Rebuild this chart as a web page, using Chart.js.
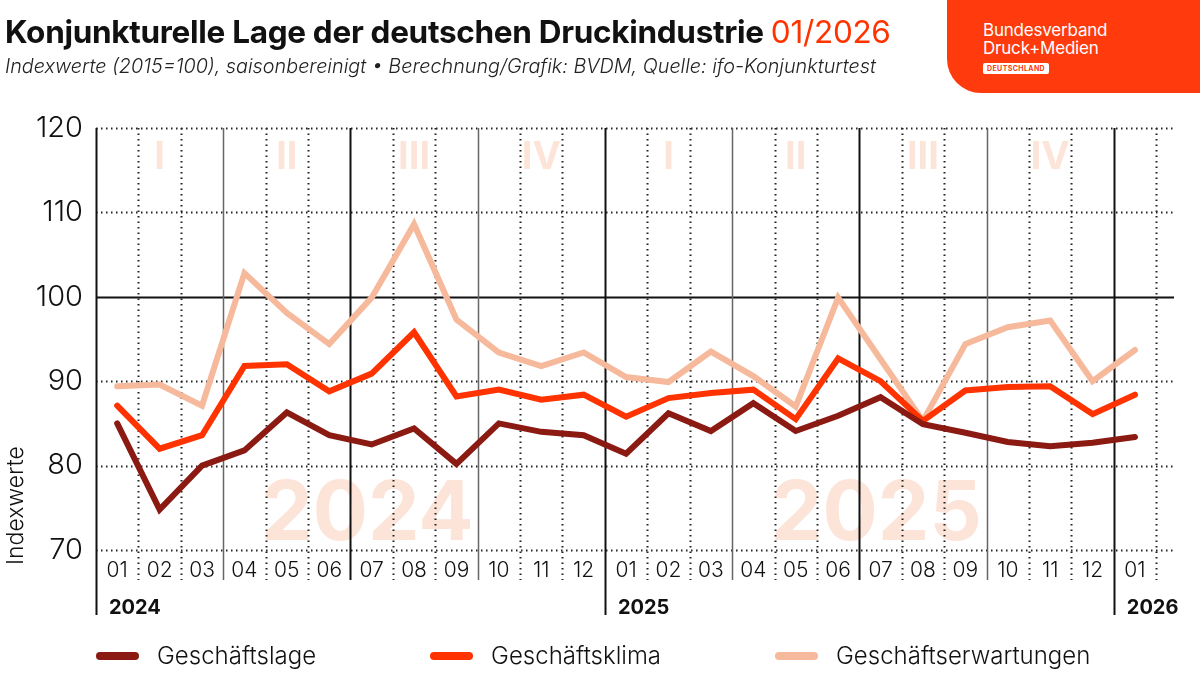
<!DOCTYPE html>
<html>
<head>
<meta charset="utf-8">
<script src="https://cdn.jsdelivr.net/npm/chart.js@4.4.1/dist/chart.umd.min.js"></script>
<style>
  body { margin: 0; width: 1200px; height: 675px; overflow: hidden; background: #fff; position: relative; font-family: Inter, "Noto Sans", sans-serif; }
  #chart { position: absolute; left: 0; top: 0; }
  #title { position: absolute; left: 5px; top: 12px; font-size: 31.5px; font-weight: 700; color: #111; white-space: nowrap; letter-spacing: -0.3px; }
  #title span { color: #ff3300; font-weight: 400; }
  #sub { position: absolute; left: 5px; top: 54px; font-size: 19.8px; font-style: italic; font-weight: 300; color: #222; white-space: nowrap; }
  #logo { position: absolute; left: 947px; top: 0; width: 253px; height: 93px; background: #ff3a0c; border-bottom-left-radius: 34px; color: #fff; }
  #logo .l1, #logo .l2 { position: absolute; left: 36px; font-size: 17px; line-height: 18px; letter-spacing: -0.2px; }
  #logo .l1 { top: 21px; }
  #logo .l2 { top: 39px; }
  #logo .badge { position: absolute; left: 36px; top: 63px; background: #fff; color: #ff3a0c; font-size: 7px; font-weight: 700; padding: 1px 4px; border-radius: 2px; letter-spacing: 0.4px; }
  #legend { position: absolute; left: 96px; top: 641px; display: flex; gap: 114px; font-size: 24px; font-weight: 300; color: #111; }
  #legend .item { display: flex; align-items: center; }
  #legend .sw { width: 43px; height: 8px; border-radius: 4px; margin-right: 18px; }
</style>
</head>
<body>
<canvas id="chart" width="1200" height="675"></canvas>
<div id="title">Konjunkturelle Lage der deutschen Druckindustrie <span>01/2026</span></div>
<div id="sub">Indexwerte (2015=100), saisonbereinigt • Berechnung/Grafik: BVDM, Quelle: ifo-Konjunkturtest</div>
<div id="logo">
  <div class="l1">Bundesverband</div>
  <div class="l2">Druck+Medien</div>
  <div class="badge">DEUTSCHLAND</div>
</div>
<div id="legend"></div>
<script>
// Monate Jan 2024 bis Jan 2026
const months = ['01','02','03','04','05','06','07','08','09','10','11','12',
                '01','02','03','04','05','06','07','08','09','10','11','12','01'];
const years = ['2024', '2025', '2026'];
const quarters = ['I', 'II', 'III', 'IV'];
const yTicks = [70, 80, 90, 100, 110, 120];

const lage        = [85.0, 74.8, 80.0, 81.8, 86.3, 83.6, 82.5, 84.4, 80.2, 85.0, 84.0, 83.6,
                     81.4, 86.2, 84.1, 87.4, 84.1, 85.9, 88.1, 84.9, 83.9, 82.8, 82.3, 82.7, 83.4];
const klima       = [87.1, 82.0, 83.6, 91.8, 92.0, 88.8, 90.9, 95.8, 88.2, 89.0, 87.8, 88.4,
                     85.8, 88.0, 88.6, 89.0, 85.5, 92.7, 90.0, 85.3, 88.9, 89.3, 89.4, 86.1, 88.4];
const erwartungen = [89.4, 89.6, 87.1, 102.8, 98.1, 94.4, 99.9, 108.6, 97.3, 93.4, 91.8, 93.4,
                     90.5, 89.9, 93.5, 90.6, 87.0, 99.9, 92.6, 85.3, 94.4, 96.4, 97.2, 90.0, 93.7];

const seriesNames = ['Geschäftslage', 'Geschäftsklima', 'Geschäftserwartungen'];
const colors = ['#8b1a13', '#ff3300', '#f7b99b'];
const pale = '#fde4d9';

const toPoints = arr => arr.map((v, i) => ({ x: i, y: v }));

// Hintergrund: Wasserzeichen, Quartale, Gitter
const decor = {
  id: 'decor',
  beforeDatasetsDraw(chart) {
    const { ctx, chartArea: a, scales: { x, y } } = chart;
    ctx.save();

    ctx.fillStyle = pale;
    ctx.textAlign = 'center';
    ctx.textBaseline = 'alphabetic';
    ctx.font = '700 82px Inter, sans-serif';
    years.slice(0, 2).forEach((yr, k) => {
      ctx.fillText(yr, x.getPixelForValue(k * 12 + 5.9), a.bottom - 10);
    });
    ctx.font = '700 38px Inter, sans-serif';
    for (let q = 0; q < 8; q++) {
      ctx.fillText(quarters[q % 4], x.getPixelForValue(q * 3 + 1), a.top + 41);
    }

    // horizontale Linien
    yTicks.forEach(v => {
      const py = Math.round(y.getPixelForValue(v)) + 0.5;
      ctx.beginPath();
      if (v === 100) { ctx.setLineDash([]); ctx.lineWidth = 2; ctx.strokeStyle = '#111'; }
      else { ctx.setLineDash([1.5, 3.5]); ctx.lineWidth = 2; ctx.strokeStyle = '#222'; }
      ctx.moveTo(a.left, py); ctx.lineTo(a.right, py); ctx.stroke();
    });

    // vertikale Linien zwischen den Monaten
    for (let k = 0; k <= months.length; k++) {
      const px = Math.round(x.getPixelForValue(k - 0.5)) + 0.5;
      let bottom = a.bottom + 30;
      ctx.beginPath();
      if (k % 12 === 0) { ctx.setLineDash([]); ctx.lineWidth = 2; ctx.strokeStyle = '#111'; bottom = a.bottom + 65; }
      else if (k % 6 === 0) { ctx.setLineDash([]); ctx.lineWidth = 2; ctx.strokeStyle = '#111'; }
      else if (k % 3 === 0) { ctx.setLineDash([]); ctx.lineWidth = 1.5; ctx.strokeStyle = '#666'; }
      else { ctx.setLineDash([1.5, 4]); ctx.lineWidth = 2; ctx.strokeStyle = '#222'; }
      ctx.moveTo(px, a.top); ctx.lineTo(px, bottom); ctx.stroke();
    }
    ctx.setLineDash([]);

    // Jahreszahlen unter der Achse
    ctx.fillStyle = '#111';
    ctx.textAlign = 'left';
    ctx.font = '700 20px Inter, sans-serif';
    years.forEach((yr, k) => {
      ctx.fillText(yr, x.getPixelForValue(k * 12 - 0.5) + 13, a.bottom + 64);
    });

    // Achsentitel
    ctx.translate(16, a.bottom + 15);
    ctx.rotate(-Math.PI / 2);
    ctx.textBaseline = 'middle';
    ctx.font = '300 23px Inter, sans-serif';
    ctx.fillText('Indexwerte', 0, 0);
    ctx.restore();
  }
};

new Chart(document.getElementById('chart'), {
  type: 'line',
  data: {
    datasets: [lage, klima, erwartungen].map((arr, i) => ({
      label: seriesNames[i],
      data: toPoints(arr),
      borderColor: colors[i],
      backgroundColor: colors[i],
      borderWidth: 6,
      pointRadius: 0,
      tension: 0,
      borderCapStyle: 'round',
      borderJoinStyle: 'miter',
    }))
  },
  options: {
    responsive: false,
    animation: false,
    layout: { padding: { top: 128, right: 26, bottom: 63, left: 0 } },
    plugins: { legend: { display: false }, tooltip: { enabled: false } },
    scales: {
      x: {
        type: 'linear', min: -0.5, max: 24.92,
        afterBuildTicks: s => { s.ticks = months.map((m, i) => ({ value: i })); },
        afterFit: s => { s.height = 62; },
        grid: { display: false, drawTicks: false },
        border: { display: false },
        ticks: {
          callback: v => months[Math.round(v)],
          autoSkip: false, maxRotation: 0, padding: 8,
          color: '#111', font: { family: 'Inter, sans-serif', size: 21, weight: 300 }
        }
      },
      y: {
        min: 70, max: 120,
        afterBuildTicks: s => { s.ticks = yTicks.map(v => ({ value: v })); },
        afterFit: s => { s.width = 96; },
        grid: { display: false, drawTicks: false },
        border: { display: false },
        ticks: { padding: 13, color: '#111', font: { family: 'Inter, sans-serif', size: 29, weight: 300 } }
      }
    }
  },
  plugins: [decor]
});

// Legende
const legend = document.getElementById('legend');
seriesNames.forEach((name, i) => {
  const item = document.createElement('div');
  item.className = 'item';
  item.innerHTML = '<div class="sw" style="background:' + colors[i] + '"></div><span>' + name + '</span>';
  legend.appendChild(item);
});
</script>
</body>
</html>
